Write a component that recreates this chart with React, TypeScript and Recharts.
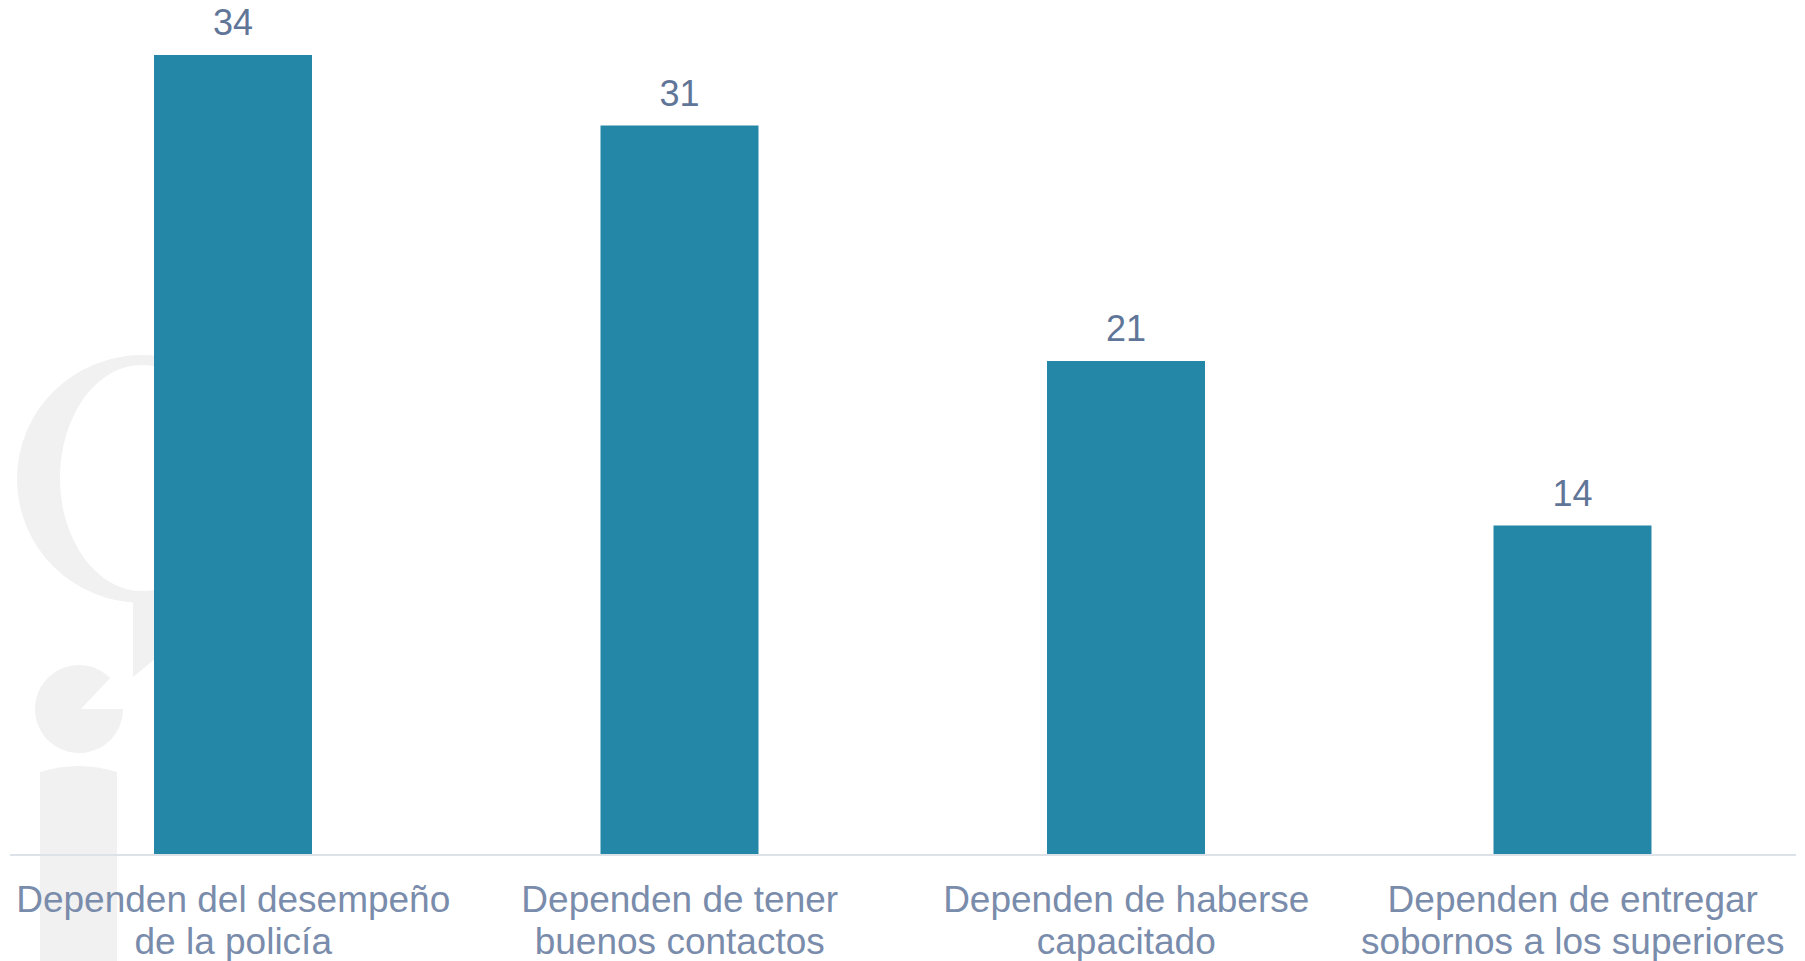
import React from 'react';
import { BarChart, Bar, XAxis, YAxis, LabelList } from 'recharts';

const categories = [
  'Dependen del desempeño\nde la policía',
  'Dependen de tener\nbuenos contactos',
  'Dependen de haberse\ncapacitado',
  'Dependen de entregar\nsobornos a los superiores',
];
const values = [34, 31, 21, 14];

const data = categories.map((name, i) => ({ name, value: values[i] }));

const FONT = '"Liberation Sans", Arial, Helvetica, sans-serif';
const BAR_COLOR = '#2587a8';
const VALUE_COLOR = '#5f7698';
const CAT_COLOR = '#7a8cab';
const AXIS_COLOR = '#dde2e8';
const WM = '#f1f1f1';

const CategoryTick = (props: any) => {
  const { x, y, payload } = props;
  const lines = String(payload.value).split('\n');
  return (
    <text x={x} y={y} textAnchor="middle" fill={CAT_COLOR} fontSize={37} fontFamily={FONT}>
      {lines.map((l, i) => (
        <tspan key={i} x={x} y={y + 57 + i * 42}>
          {l}
        </tspan>
      ))}
    </text>
  );
};

const Watermark = () => {
  const cx = 79, cy = 709, r = 44;
  const ax = cx + r * Math.cos(-Math.PI / 4);
  const ay = cy + r * Math.sin(-Math.PI / 4);
  return (
    <svg width={1805} height={961} style={{ position: 'absolute', left: 0, top: 0 }}>
      <path
        fillRule="evenodd"
        fill={WM}
        d={`M 17 479 A 125 124 0 1 0 267 479 A 125 124 0 1 0 17 479 Z M 60 478 A 82 113 0 1 0 224 478 A 82 113 0 1 0 60 478 Z`}
      />
      <polygon fill={WM} points="133,596 160,596 160,655 133,677" />
      <path fill={WM} d={`M ${cx + 2} ${cy} L ${cx + r} ${cy} A ${r} ${r} 0 1 1 ${ax} ${ay} Z`} />
      <path fill={WM} d="M 40 772 Q 78.5 760 117 772 L 117 961 L 40 961 Z" />
    </svg>
  );
};

export default function App() {
  return (
    <div style={{ position: 'absolute', left: 0, top: 0, width: 1805, height: 961, background: '#fff' }}>
      <Watermark />
      <div style={{ position: 'absolute', left: 0, top: 0 }}>
        <BarChart width={1805} height={961} data={data} margin={{ top: 55, right: 9, bottom: 0, left: 10 }}>
          <XAxis
            dataKey="name"
            height={106}
            interval={0}
            tickLine={false}
            tickSize={0}
            tickMargin={0}
            axisLine={{ stroke: AXIS_COLOR, strokeWidth: 2 }}
            tick={<CategoryTick />}
          />
          <YAxis hide domain={[0, 34]} />
          <Bar dataKey="value" fill={BAR_COLOR} barSize={158} isAnimationActive={false}>
            <LabelList
              dataKey="value"
              position="top"
              offset={20}
              fill={VALUE_COLOR}
              fontSize={36}
              fontFamily={FONT}
            />
          </Bar>
        </BarChart>
      </div>
    </div>
  );
}
